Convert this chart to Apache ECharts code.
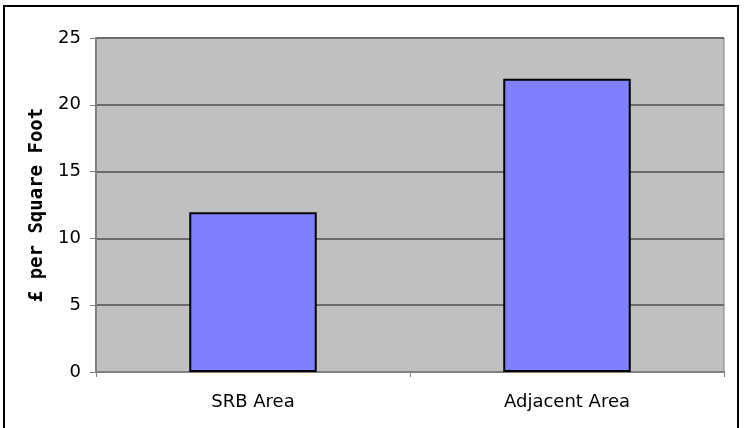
<!DOCTYPE html>
<html>
<head>
<meta charset="utf-8">
<script src="https://cdn.jsdelivr.net/npm/echarts@6/dist/echarts.min.js"></script>
<style>
  html, body { margin: 0; padding: 0; background: #fff; overflow: hidden; }
  #frame { position: absolute; left: 3px; top: 5px; width: 732px; height: 430px; border: 2px solid #000; }
  #chart { width: 746px; height: 428px; position: absolute; left: 0; top: 0; }
</style>
</head>
<body>
<div id="frame"></div>
<div id="chart"></div>
<script>
const categories = ['SRB Area', 'Adjacent Area'];
const values = [11.95, 21.95];
const yTitle = '£ per Square Foot';

const chart = echarts.init(document.getElementById('chart'));

const option = {
    animation: false,
    grid: {
        left: 96, top: 38, right: 22, bottom: 56,
        show: true,
        backgroundColor: '#C0C0C0',
        borderColor: '#808080',
        borderWidth: 1
    },
    xAxis: {
        type: 'category',
        data: categories,
        axisLine: { lineStyle: { color: '#808080', width: 2 } },
        axisTick: { show: true, length: 5, lineStyle: { color: '#808080' } },
        axisLabel: { color: '#000', fontFamily: 'DejaVu Sans', fontSize: 18, margin: 21 }
    },
    yAxis: {
        type: 'value',
        min: 0, max: 25, interval: 5,
        name: yTitle,
        nameLocation: 'middle',
        nameGap: 49,
        nameTextStyle: { color: '#000', fontFamily: 'DejaVu Sans Mono', fontWeight: 'bold', fontSize: 19 },
        axisLine: { show: true, lineStyle: { color: '#808080', width: 2 } },
        axisTick: { show: true, length: 6, lineStyle: { color: '#808080' } },
        axisLabel: { color: '#000', fontFamily: 'DejaVu Sans', fontSize: 18, margin: 15 },
        splitLine: { lineStyle: { color: '#6b6b6b', width: 2 } }
    },
    series: [{
        type: 'bar',
        data: values,
        barWidth: '40.6%',
        itemStyle: { color: '#8080FF', borderColor: '#000', borderWidth: 2 }
    }]
};

chart.setOption(option);
</script>
</body>
</html>
